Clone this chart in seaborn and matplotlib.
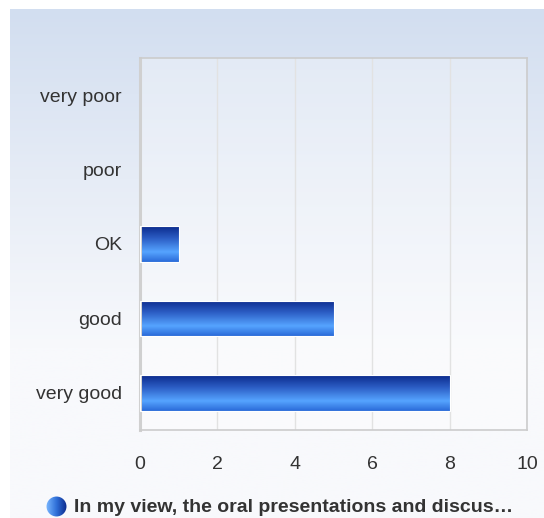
import numpy as np
import matplotlib
matplotlib.use("Agg")
import matplotlib.pyplot as plt
import seaborn as sns
import pandas as pd
from matplotlib.colors import LinearSegmentedColormap

# data
categories = ["very poor", "poor", "OK", "good", "very good"]
counts = [0, 0, 1, 5, 8]
series_name = "In my view, the oral presentations and discus\u2026"
xticks = [0, 2, 4, 6, 8, 10]

df = pd.DataFrame({"category": categories, "count": counts})

sns.set_style("white")
plt.rcParams["font.family"] = ["Liberation Sans", "DejaVu Sans"]

W, H = 544, 518
fig = plt.figure(figsize=(W / 100, H / 100), dpi=100)
fig.patch.set_facecolor("white")

# blue gradient panel behind everything
bg = fig.add_axes([10 / W, 0, (W - 10) / W, (H - 9) / H], zorder=0)
bg_cmap = LinearSegmentedColormap.from_list("bg", ["#d2def0", "#e6ecf6", "#f8f9fc", "#f8f9fc"])
bg.imshow(np.linspace(0, 1, 256).reshape(-1, 1), aspect="auto", cmap=bg_cmap,
          extent=[0, 1, 0, 1])
bg.axis("off")

# plot area
left, right, top, bottom = 140, 527, 58, 430
ax = fig.add_axes([left / W, 1 - bottom / H, (right - left) / W, (bottom - top) / H], zorder=1)
ax.set_facecolor((1, 1, 1, 0.3))

sns.barplot(data=df, y="category", x="count", orient="h", color="#2a62d0",
            width=0.48, ax=ax, zorder=3)

# vertical gradient inside each bar
bar_cmap = LinearSegmentedColormap.from_list(
    "bar", [(0, "#0b2a8c"), (0.35, "#2d5fc6"), (0.72, "#56a4ff"), (1, "#2a6ad8")])
grad = np.linspace(0, 1, 128).reshape(-1, 1)
for p in ax.patches:
    w = p.get_width()
    p.set_facecolor("none")
    if w <= 0:
        p.set_edgecolor("none")
        continue
    y0, h = p.get_y(), p.get_height()
    p.set_edgecolor("white")
    p.set_linewidth(0.8)
    im = ax.imshow(grad, aspect="auto", cmap=bar_cmap,
                   extent=[0, w, y0 + h, y0], zorder=2.5)
    im.set_clip_path(p)

ax.set_xlim(0, 10)
ax.set_ylim(4.5, -0.5)
ax.set_xticks(xticks)
ax.set_xticklabels([str(t) for t in xticks])
ax.xaxis.grid(True, color="#e2e2e2", linewidth=1, zorder=0)
ax.set_axisbelow(True)
ax.set_xlabel("")
ax.set_ylabel("")
for side in ["top", "right", "bottom"]:
    ax.spines[side].set_color("#cccccc")
    ax.spines[side].set_linewidth(1.2)
ax.spines["left"].set_color("#d0d0d0")
ax.spines["left"].set_linewidth(2.2)
ax.tick_params(axis="both", length=0, labelsize=14, colors="#333333")
ax.tick_params(axis="x", pad=19)
ax.tick_params(axis="y", pad=13)

# legend at the bottom with a shaded dot
leg_ax = fig.add_axes([46 / W, 1 - 517 / H, 21 / W, 21 / H], zorder=2)
leg_ax.set_xlim(-1, 1)
leg_ax.set_ylim(-1, 1)
leg_ax.axis("off")
dot_cmap = LinearSegmentedColormap.from_list("dot", ["#7ab8ff", "#2f6fd8", "#0b2a8c"])
circ = plt.Circle((0, 0), 0.95, transform=leg_ax.transData, facecolor="none", edgecolor="none")
leg_ax.add_patch(circ)
dim = leg_ax.imshow(np.linspace(0, 1, 64).reshape(1, -1), aspect="auto", cmap=dot_cmap,
                    extent=[-1, 1, -1, 1])
dim.set_clip_path(circ)
fig.text(74 / W, 1 - 507 / H, series_name, fontsize=14, fontweight="bold",
         color="#333333", va="center", ha="left")

fig.savefig("out.png", dpi=100)
